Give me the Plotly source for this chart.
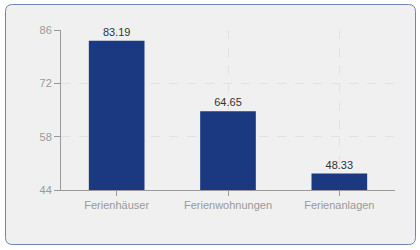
import plotly.graph_objects as go

categories = ["Ferienhäuser", "Ferienwohnungen", "Ferienanlagen"]
values = [83.19, 64.65, 48.33]
y_ticks = [44, 58, 72, 86]

fig = go.Figure()
fig.add_trace(go.Bar(
    x=categories, y=values,
    marker=dict(color="#1a3980", line=dict(width=0)),
    width=0.5,
    text=[f"{v:.2f}" for v in values],
    textposition="outside",
    textfont=dict(family="Liberation Sans", size=11, color="#333333"),
    cliponaxis=False,
    hoverinfo="skip",
))

W, H = 420, 250
ml, mr, mt, mb = 61, 25, 30, 60
pw, ph = W - ml - mr, H - mt - mb
def px(x):
    return (x - ml) / pw
def py(y):
    return 1 - (y - mt) / ph

x0, x1, y0, y1, r = px(5.5), px(415.5), py(244.5), py(4.5), 7
rx, ry = r / pw, r / ph
path = (f"M {x0+rx},{y1} L {x1-rx},{y1} Q {x1},{y1} {x1},{y1-ry} "
        f"L {x1},{y0+ry} Q {x1},{y0} {x1-rx},{y0} L {x0+rx},{y0} "
        f"Q {x0},{y0} {x0},{y0+ry} L {x0},{y1-ry} Q {x0},{y1} {x0+rx},{y1} Z")

fig.update_layout(
    width=W, height=H,
    margin=dict(l=ml, r=mr, t=mt, b=mb),
    paper_bgcolor="white",
    plot_bgcolor="#fbfbfb",
    showlegend=False,
    font=dict(family="Liberation Sans", size=11, color="#999999"),
    bargap=0.5,
    shapes=[dict(type="path", path=path, xref="paper", yref="paper",
                 fillcolor="#f0f0f0", line=dict(color="#7083b8", width=1),
                 layer="below")],
    xaxis=dict(
        showline=True, linecolor="#999999", linewidth=1,
        ticks="outside", ticklen=5, tickcolor="#999999",
        showgrid=True, gridcolor="#e2e2e2", griddash="dash", gridwidth=1,
        tickfont=dict(family="Liberation Sans", size=11, color="#999999"),
        range=[-0.5, 2.5],
    ),
    yaxis=dict(
        range=[44, 86], tickvals=y_ticks,
        showline=True, linecolor="#999999", linewidth=1,
        ticks="outside", ticklen=6, tickcolor="#999999",
        showgrid=True, gridcolor="#e2e2e2", griddash="dash", gridwidth=1,
        zeroline=False,
        tickfont=dict(family="Liberation Sans", size=11, color="#999999"),
    ),
)

fig.write_html("out.html")
